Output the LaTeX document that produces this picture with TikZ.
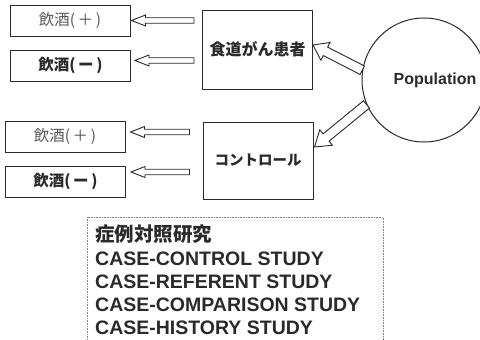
\documentclass[tikz,border=0pt]{standalone}
\usepackage{fontspec}
\setmainfont{Liberation Sans}
\newfontfamily\cjk{Noto Sans CJK JP}
\usetikzlibrary{calc}

\definecolor{ink}{HTML}{2A2A2A}
\definecolor{softink}{HTML}{575757}

% hollow block arrow: #1 tail, #2 tip, #3 shaft half width, #4 head half width, #5 head length
\newcommand\hollowarrow[5]{%
  \coordinate (ha-n) at ($(#2)!#5!(#1)$);
  \draw[blockedge]
    ($(#1)!#3!90:(#2)$) -- ($(ha-n)!#3!-90:(#1)$) -- ($(ha-n)!#4!-90:(#1)$)
    -- (#2) -- ($(ha-n)!#4!90:(#1)$) -- ($(ha-n)!#3!90:(#1)$)
    -- ($(#1)!#3!-90:(#2)$) -- cycle;
}

\tikzset{
  boxed/.style={draw=ink, line width=1pt, inner sep=0pt},
  drinkbox/.style={boxed, minimum width=120pt, minimum height=31pt},
  plusdrink/.style={text=softink, font=\cjk\fontsize{15.5}{15.5}\selectfont},
  minusdrink/.style={text=ink, font=\cjk\bfseries\fontsize{15.5}{15.5}\selectfont},
  groupbox/.style={boxed, minimum width=110pt},
  blockedge/.style={draw=ink, fill=white, line width=0.9pt, line join=miter},
  studyline/.style={anchor=base west, inner sep=0pt, text=ink,
    font=\bfseries\fontsize{19.5}{23}\selectfont},
}

\begin{document}
\begin{tikzpicture}[x=1pt, y=-1pt]
  \useasboundingbox (0,0) rectangle (480,340);
  \clip (0,0) rectangle (480,340);

  % case and control groups
  \node[groupbox, minimum height=79pt,
        font=\cjk\bfseries\fontsize{16}{16}\selectfont, text=ink] (case) at (257.5,49.5) {食道がん患者};
  \node[groupbox, minimum height=77pt,
        font=\cjk\bfseries\fontsize{14.5}{14.5}\selectfont, text=ink] (ctrl) at (258,160.5) {コントロール};

  % exposure boxes
  \node[drinkbox, plusdrink]  (b1) at (70,20.5)   {飲酒(\,＋\,)};
  \node[drinkbox, minusdrink] (b2) at (70.5,65.5) {飲酒(\,ー\,)};
  \node[drinkbox, plusdrink]  (b3) at (65,137)    {飲酒(\,＋\,)};
  \node[drinkbox, minusdrink] (b4) at (65.5,181.5){飲酒(\,ー\,)};

  % source population
  \node[draw=ink, line width=1pt, circle, minimum size=124pt, inner sep=0pt] (pop) at (424,80) {};
  \node[font=\bfseries\fontsize{16}{16}\selectfont, text=ink] (poptext) at (435,80) {Population};

  % arrows from the population to both groups
  \coordinate (t1) at ($(case.east)+(0,-4.5)$);
  \coordinate (t2) at ($(ctrl.east)+(1,-13.5)$);
  \hollowarrow{pop.171}{t1}{4.75pt}{10pt}{14pt}
  \hollowarrow{pop.203}{t2}{4.75pt}{10pt}{15pt}

  % arrows from each group to its exposure boxes
  \coordinate (e1) at ($(b1.east)+(1,0)$);
  \coordinate (e2) at ($(b2.east)+(4,-5)$);
  \coordinate (e3) at ($(b3.east)+(5,-5)$);
  \coordinate (e4) at ($(b4.east)+(5,-9.5)$);
  \coordinate (s1) at ($(case.west |- e1)+(-8,0)$);
  \coordinate (s2) at ($(case.west |- e2)+(-8,0)$);
  \coordinate (s3) at ($(ctrl.west |- e3)+(-13,0)$);
  \coordinate (s4) at ($(ctrl.west |- e4)+(-13,0)$);
  \hollowarrow{s1}{e1}{2.75pt}{5.5pt}{14pt}
  \hollowarrow{s2}{e2}{2.75pt}{5.5pt}{14pt}
  \hollowarrow{s3}{e3}{2.75pt}{5.5pt}{14pt}
  \hollowarrow{s4}{e4}{2.75pt}{5.5pt}{14pt}

  % names of the design
  \draw[draw=gray, line width=0.8pt, dash pattern=on 0.8pt off 0.8pt]
    (87,346) -- (87,217) -- (383,217) -- (383,346);
  \node[studyline, font=\cjk\bfseries\fontsize{19.5}{23}\selectfont] (l1) at (95,241.5) {症例対照研究};
  \node[studyline] (l2) at (95,265) {CASE-CONTROL STUDY};
  \node[studyline] (l3) at (95,288) {CASE-REFERENT STUDY};
  \node[studyline] (l4) at (95,311) {CASE-COMPARISON STUDY};
  \node[studyline] (l5) at (95,334) {CASE-HISTORY STUDY};
\end{tikzpicture}
\end{document}
